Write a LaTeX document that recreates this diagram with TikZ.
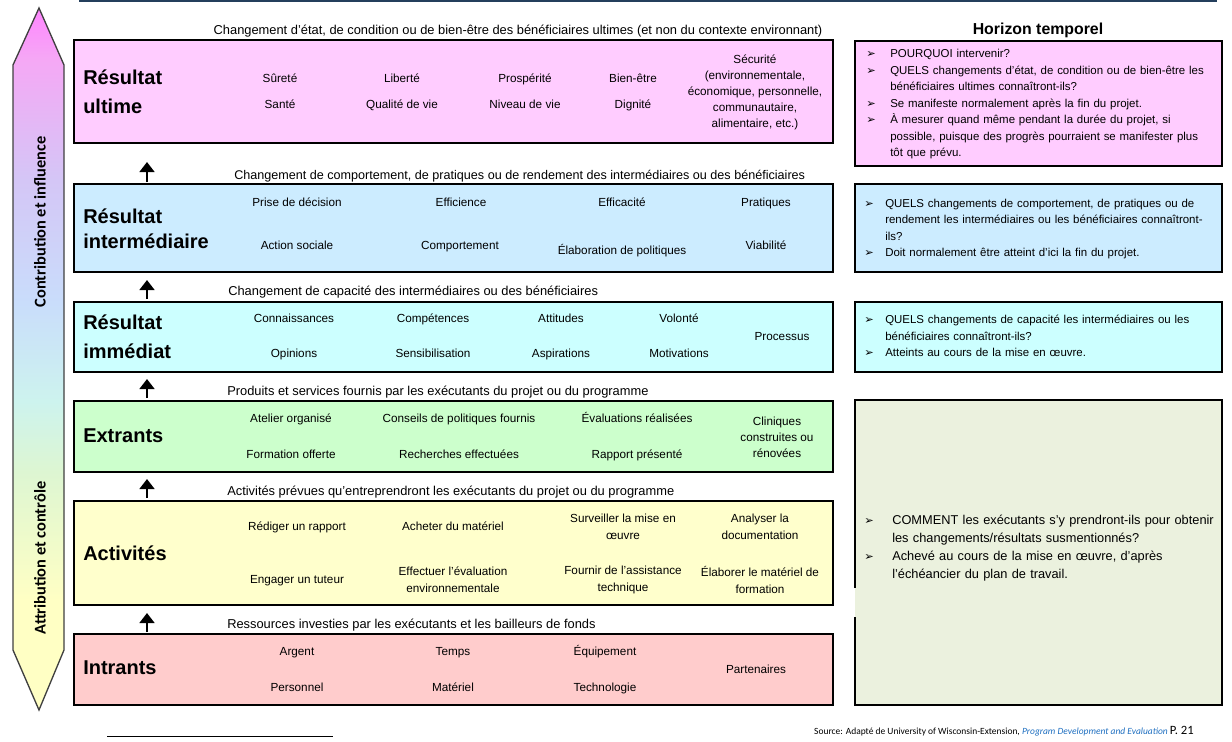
\documentclass[tikz,border=0pt]{standalone}
\usepackage{fontspec}
\setmainfont{Liberation Sans}
\newfontfamily\calib{Carlito}
\newfontfamily\djv{DejaVu Sans}
\usetikzlibrary{arrows.meta}
\definecolor{pinkA}{HTML}{FFCCFF}
\definecolor{blueA}{HTML}{CCECFF}
\definecolor{cyanA}{HTML}{CCFFFF}
\definecolor{greenA}{HTML}{CCFFCC}
\definecolor{yellowA}{HTML}{FFFFCC}
\definecolor{redA}{HTML}{FFCCCC}
\definecolor{oliveA}{HTML}{EBF1DE}
\definecolor{topline}{HTML}{243F5C}
\definecolor{srcblue}{HTML}{1F6FC0}
\definecolor{ayel}{HTML}{FFFFC4}
\definecolor{agrn}{HTML}{DDF6D2}
\definecolor{acyn}{HTML}{CDF3EE}
\definecolor{ablu}{HTML}{C9DDFB}
\definecolor{alav}{HTML}{D4C6F6}
\definecolor{apink}{HTML}{F5A8F5}
\definecolor{apinkb}{HTML}{FF85FF}
\definecolor{aborder}{HTML}{404040}
\pgfdeclareverticalshading{arrowshade}{100bp}{color(0bp)=(ayel); color(25bp)=(ayel); color(32.8bp)=(ayel); color(42bp)=(agrn); color(47bp)=(acyn); color(54bp)=(ablu); color(62.7bp)=(alav); color(71.3bp)=(apink); color(75bp)=(apinkb); color(100bp)=(apinkb)}
\newcommand\bul{{\djv\fontsize{8.5}{8.5}\selectfont ➢}}
\newcommand\bitem[2][18pt]{\par\noindent\hangindent=#1\hangafter=1\makebox[#1][l]{\bul}#2\par}
\begin{document}
\begin{tikzpicture}[x=0.75pt,y=-0.75pt,
  box/.style={draw=black, line width=0.9pt, anchor=north west, inner sep=0pt, outer sep=0pt},
  mitem/.style={font=\fontsize{8.8}{12.5}\selectfont, align=center, inner sep=0pt},
  item/.style={font=\fontsize{8.8}{12.5}\selectfont, inner sep=0pt, text height=7pt, text depth=1.6pt},
  hdr/.style={font=\fontsize{9.65}{11}\selectfont, anchor=west, inner sep=0pt},
  lbl/.style={font=\bfseries\fontsize{15}{21.5}\selectfont, align=left, anchor=west, inner sep=0pt},
  uparr/.style={line width=2.2pt, -{Triangle[width=11pt,length=7.5pt]}},
  rbox/.style={anchor=north west, inner sep=0pt, text width=270pt, align=left, font=\fontsize{8.6}{12.4}\selectfont}
]
\useasboundingbox (0,0) rectangle (1232,742);

% top line
\draw[line width=1.5pt, topline] (79,1) -- (1217,1);

% left double arrow
\draw[draw=aborder, line width=1pt, shading=arrowshade] (39,8) -- (64,65) -- (64,650) -- (39,710) -- (13,650) -- (13,65) -- cycle;
\node[rotate=90, font=\calib\bfseries\fontsize{12.3}{13}\selectfont, inner sep=0pt] (contrib) at (40,222) {Contribution et influence};
\node[rotate=90, font=\calib\bfseries\fontsize{12.3}{13}\selectfont, inner sep=0pt] (attrib) at (40,558) {Attribution et contrôle};

% row boxes
\node[box, fill=pinkA, minimum width=759*0.75pt, minimum height=103*0.75pt] (r1) at (74,40) {};
\node[box, fill=blueA, minimum width=759*0.75pt, minimum height=88*0.75pt] (r2) at (74,184) {};
\node[box, fill=cyanA, minimum width=759*0.75pt, minimum height=70*0.75pt] (r3) at (74,302) {};
\node[box, fill=greenA, minimum width=759*0.75pt, minimum height=71*0.75pt] (r4) at (74,401) {};
\node[box, fill=yellowA, minimum width=759*0.75pt, minimum height=104*0.75pt] (r5) at (74,501) {};
\node[box, fill=redA, minimum width=759*0.75pt, minimum height=71*0.75pt] (r6) at (74,634) {};

% headers
\node[hdr, anchor=center] (hd1) at (518,31) {Changement d’état, de condition ou de bien-être des bénéficiaires ultimes (et non du contexte environnant)};
\node[hdr, font=\fontsize{9.45}{11}\selectfont] (hd2) at (234,176) {Changement de comportement, de pratiques ou de rendement des intermédiaires ou des bénéficiaires};
\node[hdr] (hd3) at (228,292) {Changement de capacité des intermédiaires ou des bénéficiaires};
\node[hdr] (hd4) at (227,392) {Produits et services fournis par les exécutants du projet ou du programme};
\node[hdr] (hd5) at (227,492) {Activités prévues qu’entreprendront les exécutants du projet ou du programme};
\node[hdr] (hd6) at (227,625) {Ressources investies par les exécutants et les bailleurs de fonds};

% arrows
\path (r2.north west) ++(73,-2) coordinate (a1s) ++(0,-20) coordinate (a1e);
\path (r3.north west) ++(73,-3) coordinate (a2s) ++(0,-19) coordinate (a2e);
\path (r4.north west) ++(73,-3) coordinate (a3s) ++(0,-19) coordinate (a3e);
\path (r5.north west) ++(73,-3) coordinate (a4s) ++(0,-19) coordinate (a4e);
\path (r6.north west) ++(73,-2) coordinate (a5s) ++(0,-19) coordinate (a5e);
\draw[uparr] (a1s) -- (a1e);
\draw[uparr] (a2s) -- (a2e);
\draw[uparr] (a3s) -- (a3e);
\draw[uparr] (a4s) -- (a4e);
\draw[uparr] (a5s) -- (a5e);

% labels
\node[lbl] (l1) at (83,91.5) {Résultat\\ultime};
\node[lbl, font=\bfseries\fontsize{15}{19}\selectfont] (l2) at (83,229) {Résultat\\intermédiaire};
\node[lbl] (l3) at (83,337) {Résultat\\immédiat};
\node[lbl] (l4) at (83,436) {Extrants};
\node[lbl] (l5) at (83,553) {Activités};
\node[lbl] (l6) at (83,668) {Intrants};

% row 1 items
\node[item] (n1a) at (280,79) {Sûreté};
\node[item] (n1b) at (280,105) {Santé};
\node[item] (n1c) at (402,79) {Liberté};
\node[item] (n1d) at (402,105) {Qualité de vie};
\node[item] (n1e) at (525,79) {Prospérité};
\node[item] (n1f) at (525,105) {Niveau de vie};
\node[item] (n1g) at (633,79) {Bien-être};
\node[item] (n1h) at (633,105) {Dignité};
\node[mitem, font=\fontsize{8.8}{12}\selectfont] (n1i) at (755,92) {Sécurité\\(environnementale,\\économique, personnelle,\\communautaire,\\alimentaire, etc.)};

% row 2 items
\node[item] (n2a) at (297,203) {Prise de décision};
\node[item] (n2b) at (461,203) {Efficience};
\node[item] (n2c) at (622,203) {Efficacité};
\node[item] (n2d) at (766,203) {Pratiques};
\node[item] (n2e) at (297,246) {Action sociale};
\node[item] (n2f) at (460,246) {Comportement};
\node[item] (n2g) at (622,251) {Élaboration de politiques};
\node[item] (n2h) at (766,246) {Viabilité};

% row 3 items
\node[item] (n3a) at (294,319) {Connaissances};
\node[item] (n3b) at (433,319) {Compétences};
\node[item] (n3c) at (561,319) {Attitudes};
\node[item] (n3d) at (679,319) {Volonté};
\node[item] (n3e) at (782,337) {Processus};
\node[item] (n3f) at (294,354) {Opinions};
\node[item] (n3g) at (433,354) {Sensibilisation};
\node[item] (n3h) at (561,354) {Aspirations};
\node[item] (n3i) at (679,354) {Motivations};

% row 4 items
\node[item] (n4a) at (291,419) {Atelier organisé};
\node[item] (n4b) at (459,419) {Conseils de politiques fournis};
\node[item] (n4c) at (637,419) {Évaluations réalisées};
\node[mitem, font=\fontsize{8.8}{12}\selectfont] (n4d) at (777,437) {Cliniques\\construites ou\\rénovées};
\node[item] (n4e) at (291,455) {Formation offerte};
\node[item] (n4f) at (459,455) {Recherches effectuées};
\node[item] (n4g) at (637,455) {Rapport présenté};

% row 5 items
\node[item] (n5a) at (297,527) {Rédiger un rapport};
\node[item] (n5b) at (453,527) {Acheter du matériel};
\node[mitem] (n5c) at (623,527) {Surveiller la mise en\\œuvre};
\node[mitem] (n5d) at (760,527) {Analyser la\\documentation};
\node[item] (n5e) at (297,580) {Engager un tuteur};
\node[mitem] (n5f) at (453,580) {Effectuer l’évaluation\\environnementale};
\node[mitem] (n5g) at (623,580) {Fournir de l’assistance\\technique};
\node[mitem] (n5h) at (760,580) {Élaborer le matériel de\\formation};

% row 6 items
\node[item] (n6a) at (297,652) {Argent};
\node[item] (n6b) at (453,652) {Temps};
\node[item] (n6c) at (605,652) {Équipement};
\node[item] (n6d) at (756,670) {Partenaires};
\node[item] (n6e) at (297,688) {Personnel};
\node[item] (n6f) at (453,688) {Matériel};
\node[item] (n6g) at (605,688) {Technologie};

% right column
\node[font=\bfseries\fontsize{11.9}{13}\selectfont, inner sep=0pt] (ht) at (1038,30) {Horizon temporel};
\node[box, fill=pinkA, minimum width=367*0.75pt, minimum height=125*0.75pt] (h1) at (855,41) {};
\node[box, fill=blueA, minimum width=367*0.75pt, minimum height=88*0.75pt] (h2) at (855,184) {};
\node[box, fill=cyanA, minimum width=367*0.75pt, minimum height=70*0.75pt] (h3) at (855,302) {};
\node[box, draw=none, fill=oliveA, minimum width=367*0.75pt, minimum height=305*0.75pt] (h4) at (855,400) {};
\coordinate (g1) at (855,588);
\coordinate (g2) at (855,617);
\draw[line width=0.9pt] (g1) -- (h4.north west) -- (h4.north east) -- (h4.south east) -- (h4.south west) -- (g2);

\node[rbox] (t1) at (866,41) {\parskip=0pt%
\bitem{POURQUOI intervenir?}%
\bitem{QUELS changements d’état, de condition ou de bien-être les\newline bénéficiaires ultimes connaîtront-ils?}%
\bitem{Se manifeste normalement après la fin du projet.}%
\bitem{À mesurer quand même pendant la durée du projet, si\newline possible, puisque des progrès pourraient se manifester plus\newline tôt que prévu.}};
\node[rbox] (t2) at (864,190.5) {\parskip=0pt%
\bitem[15.75pt]{QUELS changements de comportement, de pratiques ou de\newline rendement les intermédiaires ou les bénéficiaires connaîtront-\newline ils?}%
\bitem[15.75pt]{Doit normalement être atteint d’ici la fin du projet.}};
\node[rbox] (t3) at (864,307) {\parskip=0pt%
\bitem[15.75pt]{QUELS changements de capacité les intermédiaires ou les\newline bénéficiaires connaîtront-ils?}%
\bitem[15.75pt]{Atteints au cours de la mise en œuvre.}};
\node[rbox, font=\fontsize{9.6}{13.5}\selectfont] (t4) at (864,506.5) {\parskip=0pt%
\bitem[21pt]{COMMENT les exécutants s’y prendront-ils pour obtenir\newline les changements/résultats susmentionnés?}%
\bitem[21pt]{Achevé au cours de la mise en œuvre, d’après\newline l’échéancier du plan de travail.}};

% source
\node[anchor=base east, inner sep=0pt, font=\calib\fontsize{7.1}{8}\selectfont] (src) at (1194,734) {Source: Adapté de University of Wisconsin-Extension, \textcolor{srcblue}{\itshape Program Development and Evaluation} {\fontsize{9.5}{9.5}\selectfont P. 21}};
\coordinate (fl1) at (107,736);
\coordinate (fl2) at (333,736);
\draw[line width=0.6pt] (fl1) -- (fl2);
\end{tikzpicture}
\end{document}
